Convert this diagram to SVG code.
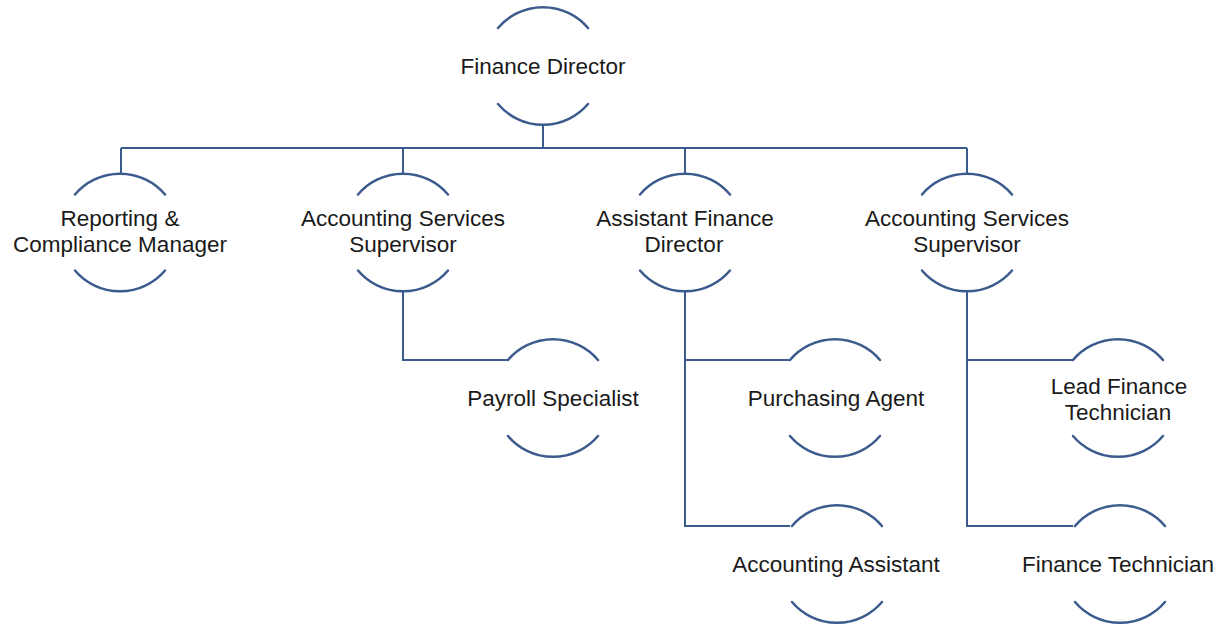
<svg xmlns="http://www.w3.org/2000/svg" xmlns:xlink="http://www.w3.org/1999/xlink" width="1223" height="625" viewBox="0 0 1223 625">
<style>
.arc{fill:none;stroke:#3B5B8D;stroke-width:2.5;stroke-linecap:round}
.con{fill:none;stroke:#3B5B8D;stroke-width:2}
.t{font-family:"Liberation Sans",Arial,sans-serif;font-size:22.5px;fill:#1a1a1a;text-anchor:middle}
</style>
<defs>
<g id="brk">
<path class="arc" d="M-45,-38 A59,59 0 0 1 45,-38"/>
<path class="arc" d="M-45,38 A59,59 0 0 0 45,38"/>
</g>
</defs>
<rect width="1223" height="625" fill="#ffffff"/>
<g id="connectors">
<path class="con" d="M543,125 V148 M121,148 H967 M121,148 V173 M403,148 V173 M685,148 V173 M967,148 V173"/>
<path class="con" d="M403,292 V360 H508"/>
<path class="con" d="M685,292 V526 H790 M685,360 H790"/>
<path class="con" d="M967,292 V526 H1073 M967,360 H1073"/>
</g>
<g id="n-finance-director"><use xlink:href="#brk" transform="translate(543,66)"/><text class="t" x="543" y="74">Finance Director</text></g>
<g id="n-reporting"><use xlink:href="#brk" transform="translate(120,232.5)"/><text class="t" x="120" y="226">Reporting &amp;</text><text class="t" x="120" y="252">Compliance Manager</text></g>
<g id="n-acc-sup-1"><use xlink:href="#brk" transform="translate(403,232.5)"/><text class="t" x="403" y="226">Accounting Services</text><text class="t" x="403" y="252">Supervisor</text></g>
<g id="n-asst-fd"><use xlink:href="#brk" transform="translate(685,232.5)"/><text class="t" x="685" y="226">Assistant Finance</text><text class="t" x="684" y="252">Director</text></g>
<g id="n-acc-sup-2"><use xlink:href="#brk" transform="translate(967,232.5)"/><text class="t" x="967" y="226">Accounting Services</text><text class="t" x="967" y="252">Supervisor</text></g>
<g id="n-payroll"><use xlink:href="#brk" transform="translate(553,398)"/><text class="t" x="553" y="406">Payroll Specialist</text></g>
<g id="n-purchasing"><use xlink:href="#brk" transform="translate(835,398)"/><text class="t" x="836" y="406">Purchasing Agent</text></g>
<g id="n-acc-asst"><use xlink:href="#brk" transform="translate(837,564)"/><text class="t" x="836" y="572">Accounting Assistant</text></g>
<g id="n-lead-ft"><use xlink:href="#brk" transform="translate(1118,398)"/><text class="t" x="1119" y="394">Lead Finance</text><text class="t" x="1118" y="420">Technician</text></g>
<g id="n-ft"><use xlink:href="#brk" transform="translate(1120,564)"/><text class="t" x="1118" y="572">Finance Technician</text></g>
</svg>
